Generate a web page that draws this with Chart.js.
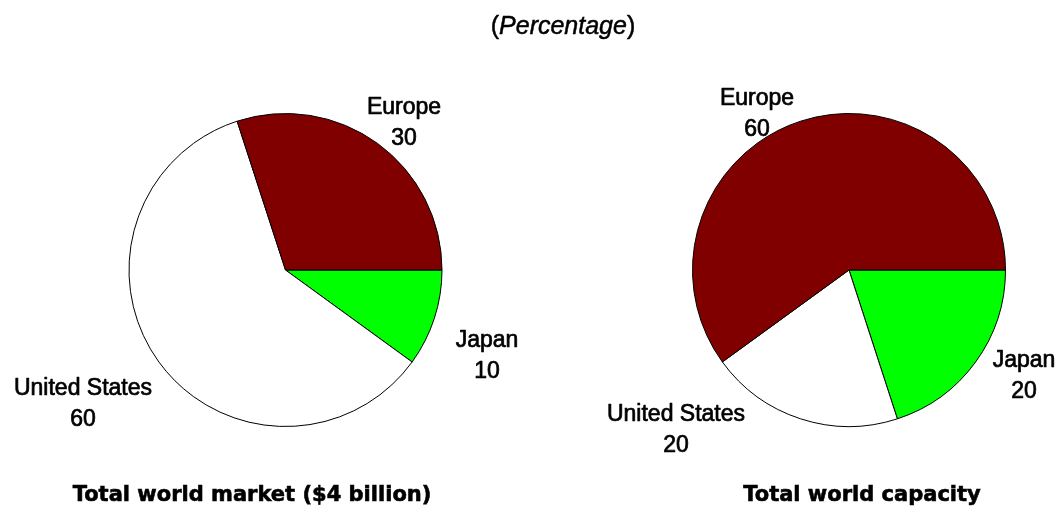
<!DOCTYPE html>
<html>
<head>
<meta charset="utf-8">
<script src="https://cdn.jsdelivr.net/npm/chart.js@4/dist/chart.umd.min.js"></script>
<style>
  html, body { margin: 0; padding: 0; background: #fff; }
  body { width: 1059px; height: 510px; position: relative; overflow: hidden; }
  canvas { position: absolute; top: 0; }
  .txt { position: absolute; white-space: nowrap; color: #000; }
  .sub { font: 25px "Liberation Sans", Arial, sans-serif; line-height: 30px; -webkit-text-stroke: 0.5px #000; }
  .title { font: bold 21px "DejaVu Sans", sans-serif; line-height: 26px; -webkit-text-stroke: 0.6px #000; }
</style>
</head>
<body>
<canvas id="market" width="530" height="510" style="left:0"></canvas>
<canvas id="capacity" width="529" height="510" style="left:530px"></canvas>
<div class="txt sub" id="subtitle">(<i>Percentage</i>)</div>
<div class="txt title" id="t1"></div>
<div class="txt title" id="t2"></div>
<script>
// Regions, in drawing order (clockwise from 3 o'clock)
const regions = ['Japan', 'United States', 'Europe'];
const regionColors = ['#00FF00', '#FFFFFF', '#800000'];

// Shares of the world market and of world capacity, per cent
const marketShares = [10, 60, 30];
const capacityShares = [20, 20, 60];

const marketTitle = 'Total world market ($4 billion)';
const capacityTitle = 'Total world capacity';

// Label anchors per region: [centre x, first baseline y] in canvas pixels
const marketLabelPos = [[487, 347], [83, 395], [404, 114]];
const capacityLabelPos = [[494, 367], [146, 421], [227, 105]];

const sliceLabels = {
  id: 'sliceLabels',
  afterDraw(chart, args, opts) {
    const ctx = chart.ctx;
    const ds = chart.data.datasets[0];
    ctx.save();
    ctx.fillStyle = '#000';
    ctx.strokeStyle = '#000';
    ctx.lineWidth = 0.7;
    ctx.lineJoin = 'round';
    ctx.font = '23px "Liberation Sans", Arial, sans-serif';
    ctx.textAlign = 'center';
    ctx.textBaseline = 'alphabetic';
    chart.data.labels.forEach((name, i) => {
      const [x, y] = opts.positions[i];
      const value = String(ds.data[i]);
      ctx.fillText(name, x, y);
      ctx.strokeText(name, x, y);
      ctx.fillText(value, x, y + 31);
      ctx.strokeText(value, x, y + 31);
    });
    ctx.restore();
  }
};

function pie(id, values, padding, positions) {
  return new Chart(document.getElementById(id), {
    type: 'pie',
    data: {
      labels: regions,
      datasets: [{
        data: values,
        backgroundColor: regionColors,
        borderColor: '#000',
        borderWidth: 1
      }]
    },
    options: {
      responsive: false,
      animation: false,
      rotation: 90,
      layout: { padding },
      plugins: {
        legend: { display: false },
        tooltip: { enabled: false },
        sliceLabels: { positions }
      }
    },
    plugins: [sliceLabels]
  });
}

pie('market', marketShares, { left: 128.5, right: 87.5, top: 113, bottom: 83 }, marketLabelPos);
pie('capacity', capacityShares, { left: 162, right: 53, top: 113, bottom: 83 }, capacityLabelPos);

// Place text blocks by centre x and baseline y
function place(el, text, cx, baseline, ascentPx) {
  if (text !== null) el.textContent = text;
  el.style.visibility = 'hidden';
  const w = el.getBoundingClientRect().width;
  el.style.left = (cx - w / 2) + 'px';
  el.style.top = (baseline - ascentPx) + 'px';
  el.style.visibility = 'visible';
}
// Liberation Sans 25px in a 30px line: baseline sits ~25.3px below top
place(document.getElementById('subtitle'), null, 563, 35, 25.3);
// DejaVu Sans 21px in a 26px line: baseline sits ~21.1px below top
place(document.getElementById('t1'), marketTitle, 252, 502, 21.1);
place(document.getElementById('t2'), capacityTitle, 862, 502, 21.1);
</script>
</body>
</html>
